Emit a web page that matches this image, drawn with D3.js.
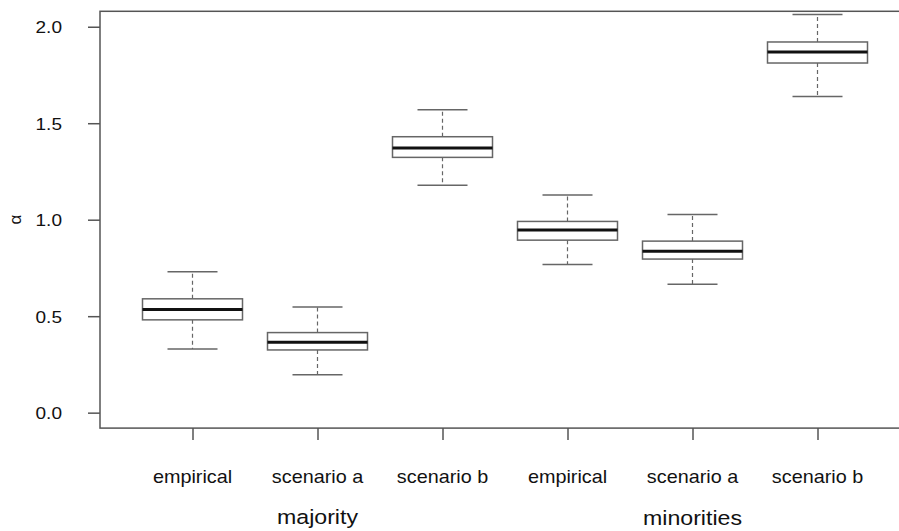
<!DOCTYPE html>
<html>
<head>
<meta charset="utf-8">
<script src="https://cdn.jsdelivr.net/npm/d3@7"></script>
<style>
  html, body { margin: 0; padding: 0; background: #fff; }
  svg { display: block; font-family: "Liberation Sans", Arial, sans-serif; }
</style>
</head>
<body>
<svg id="chart" width="899" height="531"></svg>
<script>
// ---- data ----
const categories = ["empirical", "scenario a", "scenario b", "empirical", "scenario a", "scenario b"];
const groups = ["majority", "minorities"];
const groupPositions = [2, 5];
const lowerWhisker = [0.330, 0.196, 1.179, 0.768, 0.666, 1.639];
const q1 = [0.481, 0.325, 1.323, 0.894, 0.796, 1.812];
const median = [0.534, 0.365, 1.371, 0.946, 0.837, 1.869];
const q3 = [0.590, 0.415, 1.430, 0.991, 0.889, 1.921];
const upperWhisker = [0.730, 0.548, 1.570, 1.128, 1.027, 2.064];
const yTicks = [0.0, 0.5, 1.0, 1.5, 2.0];
const yLabel = "α";

// ---- chart ----
const svg = d3.select("#chart");
const x = d3.scaleLinear().domain([0.26, 6.74]).range([100, 910]);
const y = d3.scaleLinear().domain([-0.08, 2.08]).range([428.1, 11.3]);

const boxes = categories.map((c, i) => ({
  pos: i + 1, lo: lowerWhisker[i], q1: q1[i], med: median[i], q3: q3[i], hi: upperWhisker[i]
}));
const boxW = x(1.4) - x(1.0);   // half width 0.4
const capW = x(1.2) - x(1.0);   // half cap 0.2

const g = svg.append("g");
const bx = g.selectAll("g.box").data(boxes).join("g").attr("class", "box");

// whiskers (dashed)
bx.append("line")
  .attr("x1", d => x(d.pos)).attr("x2", d => x(d.pos))
  .attr("y1", d => y(d.q3)).attr("y2", d => y(d.hi))
  .attr("stroke", "#666").attr("stroke-width", 1.2).attr("stroke-dasharray", "4,3");
bx.append("line")
  .attr("x1", d => x(d.pos)).attr("x2", d => x(d.pos))
  .attr("y1", d => y(d.q1)).attr("y2", d => y(d.lo))
  .attr("stroke", "#666").attr("stroke-width", 1.2).attr("stroke-dasharray", "4,3");
// caps
bx.append("line")
  .attr("x1", d => x(d.pos) - capW).attr("x2", d => x(d.pos) + capW)
  .attr("y1", d => y(d.hi)).attr("y2", d => y(d.hi))
  .attr("stroke", "#666").attr("stroke-width", 1.5);
bx.append("line")
  .attr("x1", d => x(d.pos) - capW).attr("x2", d => x(d.pos) + capW)
  .attr("y1", d => y(d.lo)).attr("y2", d => y(d.lo))
  .attr("stroke", "#666").attr("stroke-width", 1.5);
// box
bx.append("rect")
  .attr("x", d => x(d.pos) - boxW).attr("width", 2 * boxW)
  .attr("y", d => y(d.q3)).attr("height", d => y(d.q1) - y(d.q3))
  .attr("fill", "#fff").attr("stroke", "#666").attr("stroke-width", 1.5);
// median
bx.append("line")
  .attr("x1", d => x(d.pos) - boxW).attr("x2", d => x(d.pos) + boxW)
  .attr("y1", d => y(d.med)).attr("y2", d => y(d.med))
  .attr("stroke", "#111").attr("stroke-width", 3);

// frame
svg.append("rect")
  .attr("x", x(0.26)).attr("y", y(2.08))
  .attr("width", x(6.74) - x(0.26)).attr("height", y(-0.08) - y(2.08))
  .attr("fill", "none").attr("stroke", "#555").attr("stroke-width", 1.5);

// y axis
const yAxis = svg.append("g").attr("transform", `translate(${x(0.26)},0)`)
  .call(d3.axisLeft(y).tickValues(yTicks).tickSize(12).tickPadding(0).tickFormat(d3.format(".1f")));
yAxis.select(".domain").remove();
yAxis.selectAll(".tick line").attr("stroke", "#555").attr("stroke-width", 1.5);
yAxis.selectAll(".tick text").remove();
yAxis.selectAll(".tick").append("text")
  .attr("transform", "translate(-38,0) scale(1.12,1)")
  .attr("dy", "0.36em")
  .attr("text-anchor", "end")
  .attr("fill", "#111")
  .style("font-size", "17px")
  .text(d => d3.format(".1f")(d));

// x axis
const xAxis = svg.append("g").attr("transform", `translate(0,${y(-0.08)})`)
  .call(d3.axisBottom(x).tickValues(d3.range(1, 7)).tickSize(12).tickFormat(""));
xAxis.select(".domain").remove();
xAxis.selectAll(".tick line").attr("stroke", "#555").attr("stroke-width", 1.5);

// category labels
svg.selectAll("text.cat").data(categories).join("text").attr("class", "cat")
  .attr("transform", (d, i) => `translate(${x(i + 1)},483) scale(1.1,1)`)
  .attr("text-anchor", "middle").attr("fill", "#111").style("font-size", "18px")
  .text(d => d);

// group labels
svg.selectAll("text.grp").data(groups).join("text").attr("class", "grp")
  .attr("transform", (d, i) => `translate(${x(groupPositions[i])},${i === 0 ? 524 : 525}) scale(1.13,1)`)
  .attr("text-anchor", "middle").attr("fill", "#111").style("font-size", "20.5px")
  .text(d => d);

// y label
svg.append("text")
  .attr("transform", `translate(21,${(y(2.08) + y(-0.08)) / 2}) rotate(-90)`)
  .attr("text-anchor", "middle").attr("fill", "#111").style("font-size", "17px")
  .text(yLabel);
</script>
</body>
</html>
